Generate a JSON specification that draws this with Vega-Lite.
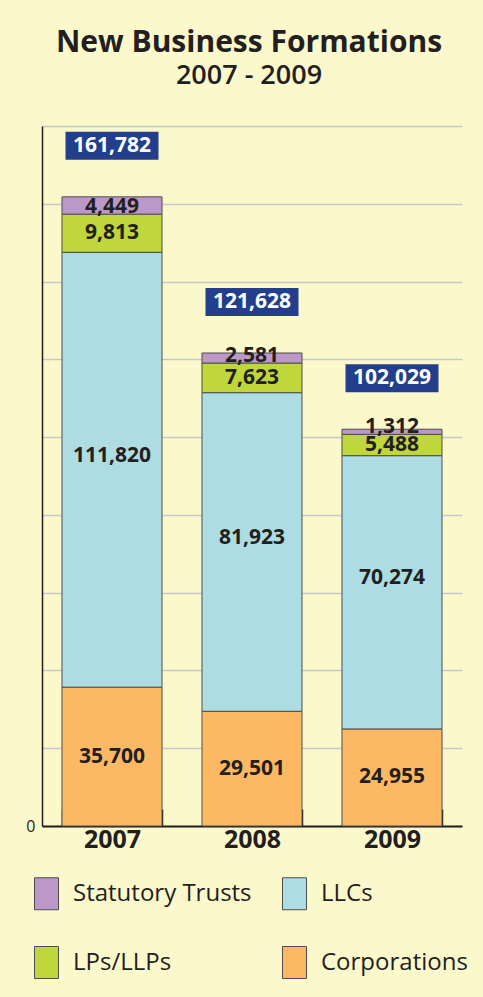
{
  "$schema": "https://vega.github.io/schema/vega-lite/v6.json",
  "width": 420,
  "height": 700,
  "autosize": {"type": "none"},
  "padding": {"left": 42, "top": 126, "right": 21, "bottom": 171},
  "background": "#FBF8CC",
  "config": {
    "font": "Open Sans",
    "view": {"stroke": null},
    "title": {"color": "#231F20", "subtitleColor": "#231F20"}
  },
  "title": {
    "text": "New Business Formations",
    "subtitle": "2007 - 2009",
    "fontSize": 30,
    "fontWeight": "bold",
    "subtitleFontSize": 27,
    "subtitleFontWeight": 600,
    "subtitlePadding": 5,
    "anchor": "middle",
    "dx": -3,
    "offset": 37
  },
  "data": {
    "values": [
      {"year": "2007", "type": "Corporations", "order": 1, "value": 35700},
      {"year": "2007", "type": "LLCs", "order": 2, "value": 111820},
      {"year": "2007", "type": "LPs/LLPs", "order": 3, "value": 9813},
      {"year": "2007", "type": "Statutory Trusts", "order": 4, "value": 4449},
      {"year": "2008", "type": "Corporations", "order": 1, "value": 29501},
      {"year": "2008", "type": "LLCs", "order": 2, "value": 81923},
      {"year": "2008", "type": "LPs/LLPs", "order": 3, "value": 7623},
      {"year": "2008", "type": "Statutory Trusts", "order": 4, "value": 2581},
      {"year": "2009", "type": "Corporations", "order": 1, "value": 24955},
      {"year": "2009", "type": "LLCs", "order": 2, "value": 70274},
      {"year": "2009", "type": "LPs/LLPs", "order": 3, "value": 5488},
      {"year": "2009", "type": "Statutory Trusts", "order": 4, "value": 1312}
    ]
  },
  "encoding": {
    "x": {
      "field": "year",
      "type": "nominal",
      "scale": {"type": "band", "paddingInner": 0.2857, "paddingOuter": 0.142857},
      "axis": {
        "title": null,
        "labelAngle": 0,
        "labelFontSize": 25,
        "labelFontWeight": "bold",
        "labelColor": "#231F20",
        "labelPadding": 18,
        "tickBand": "extent",
        "tickSize": -17,
        "tickColor": "#231F20",
        "tickWidth": 1.5,
        "domainColor": "#231F20",
        "domainWidth": 2
      }
    }
  },
  "layer": [
    {
      "mark": {"type": "bar", "stroke": "#4D4D4D", "strokeWidth": 1},
      "encoding": {
        "y": {
          "field": "value",
          "type": "quantitative",
          "stack": "zero",
          "scale": {"domain": [0, 180000], "nice": false},
          "axis": {
            "title": null,
            "values": [0, 20000, 40000, 60000, 80000, 100000, 120000, 140000, 160000, 180000],
            "labelExpr": "datum.value == 0 ? '0' : ''",
            "labelFontSize": 16,
            "labelColor": "#231F20",
            "labelPadding": 7,
            "ticks": false,
            "grid": true,
            "gridColor": "#C8C8C8",
            "gridWidth": 1.5,
            "domainColor": "#231F20",
            "domainWidth": 1.5
          }
        },
        "order": {"field": "order", "type": "quantitative"},
        "color": {
          "field": "type",
          "type": "nominal",
          "scale": {
            "domain": ["Statutory Trusts", "LLCs", "LPs/LLPs", "Corporations"],
            "range": ["#BC98C8", "#ADDDE3", "#BFD73B", "#FDB863"]
          },
          "legend": {
            "orient": "none",
            "legendX": -12,
            "legendY": 751,
            "columns": 2,
            "direction": "horizontal",
            "title": null,
            "padding": 0,
            "symbolType": "M-0.75,-1 H0.75 V1 H-0.75 Z",
            "symbolSize": 1024,
            "symbolStrokeColor": "#4D4D4D",
            "symbolStrokeWidth": 1,
            "symbolOpacity": 1,
            "labelFontSize": 24,
            "labelColor": "#231F20",
            "labelOffset": 10,
            "labelLimit": 400,
            "columnPadding": 26,
            "rowPadding": 32
          }
        }
      }
    },
    {
      "mark": {"type": "text", "fontSize": 21, "fontWeight": "bold", "color": "#231F20", "baseline": "middle"},
      "encoding": {
        "y": {"field": "value", "type": "quantitative", "stack": "zero", "bandPosition": 0.5},
        "order": {"field": "order", "type": "quantitative"},
        "text": {
          "condition": {"test": "datum.type === 'Statutory Trusts' || datum.type === 'LLCs'", "value": ""},
          "field": "value",
          "type": "quantitative",
          "format": ","
        }
      }
    },
    {
      "mark": {"type": "text", "fontSize": 21, "fontWeight": "bold", "color": "#231F20", "baseline": "middle", "yOffset": -14},
      "encoding": {
        "y": {"field": "value", "type": "quantitative", "stack": "zero", "bandPosition": 0.5},
        "order": {"field": "order", "type": "quantitative"},
        "text": {
          "condition": {"test": "datum.type !== 'LLCs'", "value": ""},
          "field": "value",
          "type": "quantitative",
          "format": ","
        }
      }
    },
    {
      "transform": [
        {"stack": "value", "groupby": ["year"], "sort": [{"field": "order", "order": "ascending"}], "as": ["v0", "v1"]},
        {"filter": "datum.type === 'Statutory Trusts'"}
      ],
      "mark": {"type": "text", "fontSize": 21, "fontWeight": "bold", "color": "#231F20", "baseline": "alphabetic", "dy": -1},
      "encoding": {
        "y": {"field": "v0", "type": "quantitative"},
        "text": {"field": "value", "type": "quantitative", "format": ","}
      }
    },
    {
      "transform": [{"aggregate": [{"op": "sum", "field": "value", "as": "total"}], "groupby": ["year"]}],
      "mark": {"type": "point", "shape": "M-1,-0.3011 H1 V0.3011 H-1 Z", "size": 8649, "filled": true, "color": "#233F8C", "opacity": 1, "strokeWidth": 0, "yOffset": -51},
      "encoding": {
        "y": {"field": "total", "type": "quantitative"}
      }
    },
    {
      "transform": [{"aggregate": [{"op": "sum", "field": "value", "as": "total"}], "groupby": ["year"]}],
      "mark": {"type": "text", "fontSize": 21, "fontWeight": "bold", "color": "#FFFFFF", "baseline": "middle", "yOffset": -51},
      "encoding": {
        "y": {"field": "total", "type": "quantitative"},
        "text": {"field": "total", "type": "quantitative", "format": ","}
      }
    }
  ]
}
